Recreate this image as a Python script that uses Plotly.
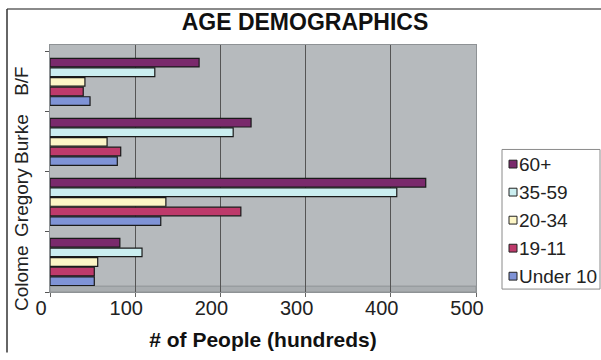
import plotly.graph_objects as go

# Regions (bottom to top on the category axis)
regions = ["Colome", "Gregory", "Burke", "B/F"]

# Age groups, listed as they appear in the legend (top to bottom)
age_groups = ["60+", "35-59", "20-34", "19-11", "Under 10"]
colors = ["#7A2A6C", "#CBEEF0", "#FDF6C6", "#BE3A6B", "#7F93D6"]

# Population (hundreds) per age group, in region order above
pop_60_plus = [82, 441, 236, 175]
pop_35_59 = [108, 407, 215, 123]
pop_20_34 = [56, 136, 67, 41]
pop_19_11 = [52, 224, 83, 39]
pop_under_10 = [52, 130, 79, 47]
series = [pop_60_plus, pop_35_59, pop_20_34, pop_19_11, pop_under_10]

x_ticks = [0, 100, 200, 300, 400, 500]

W, H = 601, 360
ML, MR, MT, MB = 50, 125, 45, 62
PW, PH = W - ML - MR, H - MT - MB
FONT = "Arial, Liberation Sans, sans-serif"

# back wall rises a little above the last category band
BAND_PX = (PH - 7) / len(regions)
Y_TOP = len(regions) - 0.5 + 7 / BAND_PX

# vertical nudge (px) for region names
label_nudge = {"Colome": -16, "Burke": 3, "B/F": 1}


def px(x):
    return (x - ML) / PW


def py(y):
    return (H - MB - y) / PH


fig = go.Figure()

# first trace sits at the bottom of each group, so add in reverse
for name, col, vals in reversed(list(zip(age_groups, colors, series))):
    fig.add_trace(go.Bar(
        x=vals, y=regions, orientation="h", name=name,
        marker=dict(color=col, line=dict(color="#1a1a1a", width=1.2)),
        showlegend=False,
    ))

shapes = [
    # floor strip of the plot area
    dict(type="rect", xref="paper", yref="paper", x0=0, x1=1, y0=0, y1=6 / PH,
         fillcolor="#A9ADB0", line=dict(color="#8E9295", width=1), layer="below"),
    # outer frame
    dict(type="line", xref="paper", yref="paper", x0=px(7), x1=px(601),
         y0=py(8), y1=py(8), line=dict(color="#8A8A8A", width=2)),
    dict(type="line", xref="paper", yref="paper", x0=px(7), x1=px(7),
         y0=py(8), y1=py(360), line=dict(color="#333333", width=1.5)),
    # legend box
    dict(type="rect", xref="paper", yref="paper", x0=px(502), x1=px(600),
         y0=py(295), y1=py(152), fillcolor="white",
         line=dict(color="#8A8A8A", width=1)),
]

annotations = []

# vertical region names, centred on each category band
for r in regions:
    annotations.append(dict(xref="paper", yref="y", x=px(22), y=r,
                            xanchor="center", yanchor="middle", showarrow=False,
                            textangle=-90, text=r, yshift=label_nudge.get(r, 0),
                            font=dict(family=FONT, size=19, color="#222222")))

leg_top, leg_step = 167, 28.7
for i, (name, col) in enumerate(zip(age_groups, colors)):
    cy = leg_top + i * leg_step
    shapes.append(dict(type="rect", xref="paper", yref="paper",
                       x0=px(509), x1=px(517), y0=py(cy + 4), y1=py(cy - 4),
                       fillcolor=col, line=dict(color="#222222", width=1)))
    annotations.append(dict(xref="paper", yref="paper", x=px(517), y=py(cy),
                            xanchor="left", yanchor="middle", showarrow=False,
                            text=name, font=dict(family=FONT, size=19, color="#222222")))

fig.update_layout(
    width=W, height=H,
    margin=dict(l=ML, r=MR, t=MT, b=MB),
    paper_bgcolor="white",
    plot_bgcolor="#B6BABD",
    barmode="group",
    bargap=0.2,
    bargroupgap=0.1,
    showlegend=False,
    title=dict(text="<b>AGE DEMOGRAPHICS</b>", xref="container", yref="container",
               x=305 / W, y=1 - 22 / H, xanchor="center", yanchor="middle",
               font=dict(family=FONT, size=23, color="#111111")),
    xaxis=dict(
        range=[0, 500], tickvals=x_ticks, ticktext=[str(v) for v in x_ticks],
        showgrid=True, gridcolor="#555555", gridwidth=1,
        zeroline=False, showline=True, linecolor="#8E9295", mirror=True,
        ticks="outside", ticklen=4, tickcolor="#666666",
        ticklabelshift=-9, ticklabelstandoff=-6,
        tickfont=dict(family=FONT, size=20, color="#222222"),
        title=dict(text="<b># of People (hundreds)</b>", standoff=14,
                   font=dict(family=FONT, size=21, color="#111111")),
    ),
    yaxis=dict(
        type="category", categoryorder="array", categoryarray=regions,
        range=[-0.5, Y_TOP],
        tickson="boundaries", showticklabels=False,
        ticks="outside", ticklen=4, tickcolor="#555555",
        showgrid=False, showline=True, linecolor="#8E9295", mirror=True,
    ),
    shapes=shapes,
    annotations=annotations,
)

fig.write_html("out.html")
